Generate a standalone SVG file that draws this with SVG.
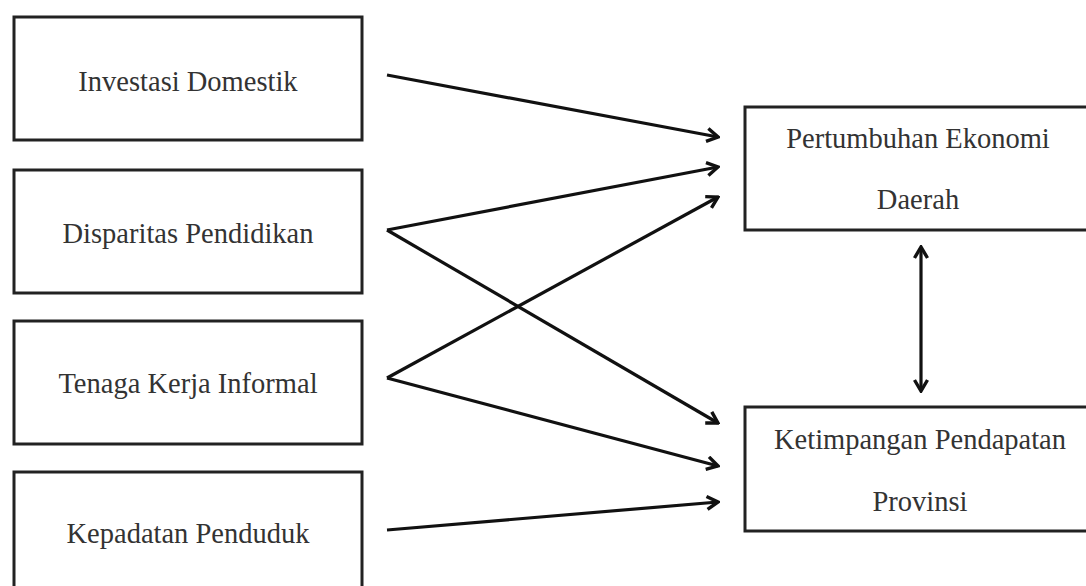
<svg xmlns="http://www.w3.org/2000/svg" width="1086" height="586" viewBox="0 0 1086 586">
<style>
.box{fill:#fff;stroke:#222;stroke-width:3}
.t{font-family:"Liberation Serif","Times New Roman",serif;font-size:28.5px;fill:#333;text-anchor:middle}
.c{stroke:#111;stroke-width:3.2;fill:none;marker-end:url(#ah)}
</style>
<defs>
<marker id="ah" viewBox="0 0 16 16" refX="14" refY="8" markerWidth="16" markerHeight="16" markerUnits="userSpaceOnUse" orient="auto-start-reverse">
<path d="M3,1.5 L14,8 L3,14.5" fill="none" stroke="#111" stroke-width="3.4" stroke-linejoin="miter"/>
</marker>
</defs>
<rect width="1086" height="586" fill="#fff"/>
<g id="n1"><rect class="box" x="14" y="17" width="348" height="123"/><text class="t" x="188" y="91">Investasi Domestik</text></g>
<g id="n2"><rect class="box" x="14" y="170" width="348" height="123"/><text class="t" x="188" y="243">Disparitas Pendidikan</text></g>
<g id="n3"><rect class="box" x="14" y="321" width="348" height="123"/><text class="t" x="188" y="393">Tenaga Kerja Informal</text></g>
<g id="n4"><rect class="box" x="14" y="472" width="348" height="130"/><text class="t" x="188" y="543">Kepadatan Penduduk</text></g>
<g id="n5"><rect class="box" x="745" y="107" width="350" height="123"/><text class="t" x="918" y="148">Pertumbuhan Ekonomi</text><text class="t" x="918" y="209">Daerah</text></g>
<g id="n6"><rect class="box" x="745" y="407" width="350" height="124"/><text class="t" x="920" y="449">Ketimpangan Pendapatan</text><text class="t" x="920" y="511">Provinsi</text></g>
<g id="connectors">
<path class="c" d="M387,75 L718,137"/>
<path class="c" d="M387,230 L718,167"/>
<path class="c" d="M387,230 L718,423"/>
<path class="c" d="M387,378 L718,197"/>
<path class="c" d="M387,378 L718,466"/>
<path class="c" d="M387,530 L718,502"/>
<path class="c" d="M921,391 L921,247" style="marker-start:url(#ah)"/>
</g>
</svg>
